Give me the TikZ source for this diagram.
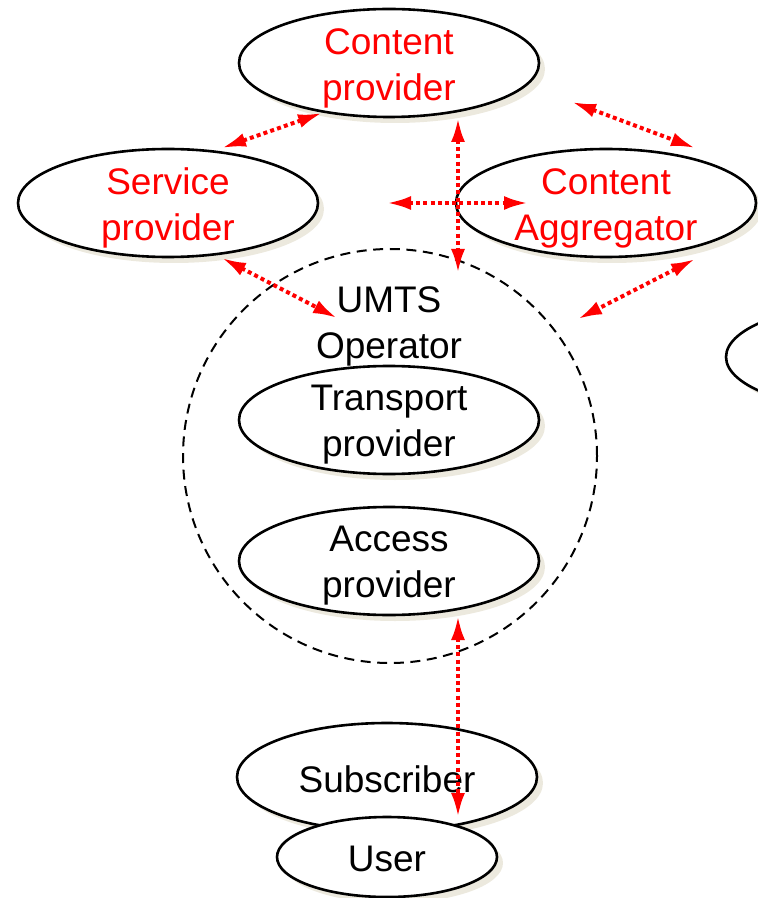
\documentclass[tikz,border=0pt]{standalone}
\usepackage{fontspec}
\setmainfont{Liberation Sans}
\usetikzlibrary{shapes.geometric,shadows,arrows.meta}
\definecolor{shadowc}{RGB}{236,233,222}
\tikzset{
  role/.style={ellipse, draw, line width=1.3pt, fill=white, inner sep=0pt,
    drop shadow={shadow xshift=3pt, shadow yshift=-3pt, fill=shadowc, opacity=1}},
  big/.style={role, minimum width=150pt, minimum height=54pt},
  link/.style={draw, red, line width=2pt, dash pattern=on 2pt off 1.6pt,
    {Latex[length=12pt,width=7pt]}-{Latex[length=12pt,width=7pt]}},
}
\begin{document}
\begin{tikzpicture}[x=.5pt, y=-.5pt, font=\fontsize{18.5}{23}\selectfont]
  \useasboundingbox (0,0) rectangle (758,898);

  % operator domain
  \node[circle, draw, line width=1pt, dash pattern=on 5pt off 3.3pt,
        minimum size=207pt] (umts) at (390,456) {};

  \begin{scope}[every node/.style={big}]
    \node (cp)    at (389,63)  {};
    \node (sp)    at (168,203) {};
    \node (ca)    at (606,203) {};
    \node (other) at (876,357) {};
    \node (tp)    at (389,420) {};
    \node (ap)    at (389,561) {};
    \node (sub)   at (387,777) {};
  \end{scope}
  \node[role, minimum width=110pt, minimum height=40pt] (user) at (387,857) {};

  \begin{scope}[every node/.style={align=center, yshift=-2.5pt}]
    \node[red] (cptext)  at (cp)  {Content\\provider};
    \node[red] (sptext)  at (sp)  {Service\\provider};
    \node[red] (catext)  at (ca)  {Content\\Aggregator};
    \node (umtstext)     at (389,321) {UMTS\\Operator};
    \node (tptext)       at (tp)  {Transport\\provider};
    \node (aptext)       at (ap)  {Access\\provider};
    \node (subtext)      at (387,774) {Subscriber};
    \node (usertext)     at (387,854) {User};
  \end{scope}

  % arrow ends
  \coordinate (cpsw)   at (322,113);
  \coordinate (spne)   at (222,148);
  \coordinate (cpse)   at (458,118);
  \coordinate (umtsn)  at (458,273);
  \coordinate (hw)     at (387,203);
  \coordinate (he)     at (528,203);
  \coordinate (cpe)    at (572,102);
  \coordinate (cane)   at (695,148);
  \coordinate (case)   at (695,259);
  \coordinate (umtsne) at (578,319);
  \coordinate (spse)   at (222,258);
  \coordinate (umtsnw) at (337,318);
  \coordinate (aps)    at (458,616);
  \coordinate (subin)  at (458,817);

  \begin{scope}[every edge/.style={link}]
    \path (cpsw) edge (spne);
    \path (cpse) edge (umtsn);
    \path (hw)   edge (he);
    \path (cpe)  edge (cane);
    \path (case) edge (umtsne);
    \path (spse) edge (umtsnw);
    \path (aps)  edge (subin);
  \end{scope}

\end{tikzpicture}
\end{document}
